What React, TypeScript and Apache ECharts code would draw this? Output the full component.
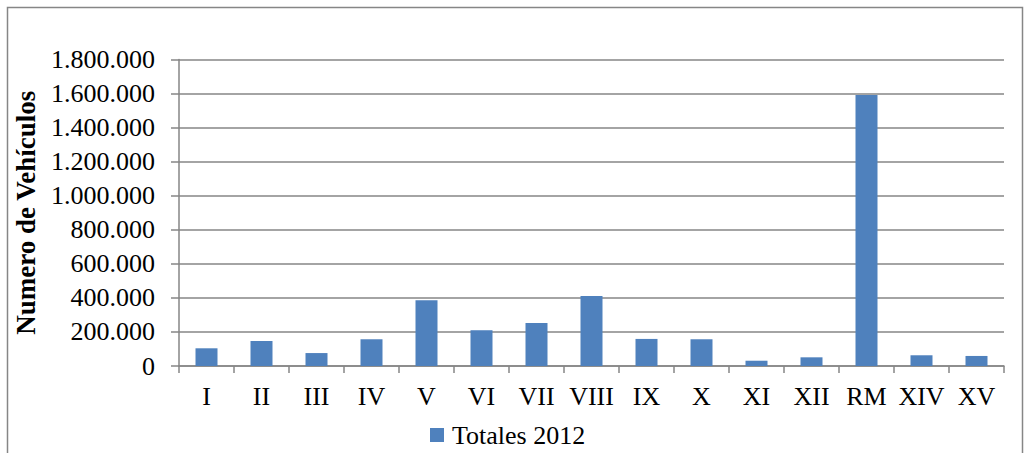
import React, { useEffect, useRef } from "react";
import * as echarts from "echarts";

// Regiones y totales de vehículos 2012
const regiones = ["I", "II", "III", "IV", "V", "VI", "VII", "VIII", "IX", "X", "XI", "XII", "RM", "XIV", "XV"];
const totales2012 = [104000, 147000, 76000, 157000, 386000, 210000, 253000, 411000, 159000, 157000, 31000, 51000, 1592000, 63000, 59000];
const serieNombre = "Totales 2012";
const ejeTitulo = "Numero de Vehículos";

const FONT = "'Liberation Serif', 'Times New Roman', serif";
const GRAY = "#868686";

const fmtMiles = (v: number) => String(Math.round(v)).replace(/\B(?=(\d{3})+(?!\d))/g, ".");

export default function App() {
  const ref = useRef<HTMLDivElement>(null);

  useEffect(() => {
    if (!ref.current) return;
    const chart = echarts.init(ref.current, undefined, { renderer: "svg" });
    chart.setOption({
      animation: false,
      backgroundColor: "#ffffff",
      textStyle: { fontFamily: FONT, color: "#000" },
      graphic: [
        {
          type: "rect",
          shape: { x: 7.5, y: 7.5, width: 1015, height: 470 },
          style: { fill: "none", stroke: GRAY, lineWidth: 1.5 },
          silent: true,
        },
      ],
      grid: { left: 179, right: 22, top: 59.5, bottom: 87, containLabel: false },
      legend: {
        data: [serieNombre],
        left: 425,
        top: 417,
        icon: "rect",
        itemWidth: 14,
        itemHeight: 14,
        itemGap: 10,
        textStyle: { fontFamily: FONT, fontSize: 26, color: "#000", padding: [0, 0, 0, 3] },
      },
      xAxis: {
        type: "category",
        data: regiones,
        axisLine: { lineStyle: { color: GRAY, width: 1.5 } },
        axisTick: { show: true, length: 7, interval: 0, lineStyle: { color: GRAY, width: 1.5 } },
        axisLabel: { fontFamily: FONT, fontSize: 26, color: "#000", margin: 17, interval: 0 },
      },
      yAxis: {
        type: "value",
        min: 0,
        max: 1800000,
        interval: 200000,
        name: ejeTitulo,
        nameLocation: "middle",
        nameGap: 140,
        nameRotate: 90,
        nameTextStyle: { fontFamily: FONT, fontSize: 27, fontWeight: "bold", color: "#000" },
        axisLine: { show: true, lineStyle: { color: GRAY, width: 1.5 } },
        axisTick: { show: true, length: 8, lineStyle: { color: GRAY, width: 1.5 } },
        axisLabel: {
          fontFamily: FONT,
          fontSize: 26,
          color: "#000",
          margin: 24,
          formatter: (v: number) => fmtMiles(v),
        },
        splitLine: { lineStyle: { color: GRAY, width: 1.5 } },
      },
      series: [
        {
          name: serieNombre,
          type: "bar",
          data: totales2012,
          barCategoryGap: "60%",
          itemStyle: { color: "#4F81BD" },
        },
      ],
    });
    return () => chart.dispose();
  }, []);

  return (
    <div
      ref={ref}
      style={{ position: "absolute", left: 0, top: 0, width: 1026, height: 453 }}
    />
  );
}
